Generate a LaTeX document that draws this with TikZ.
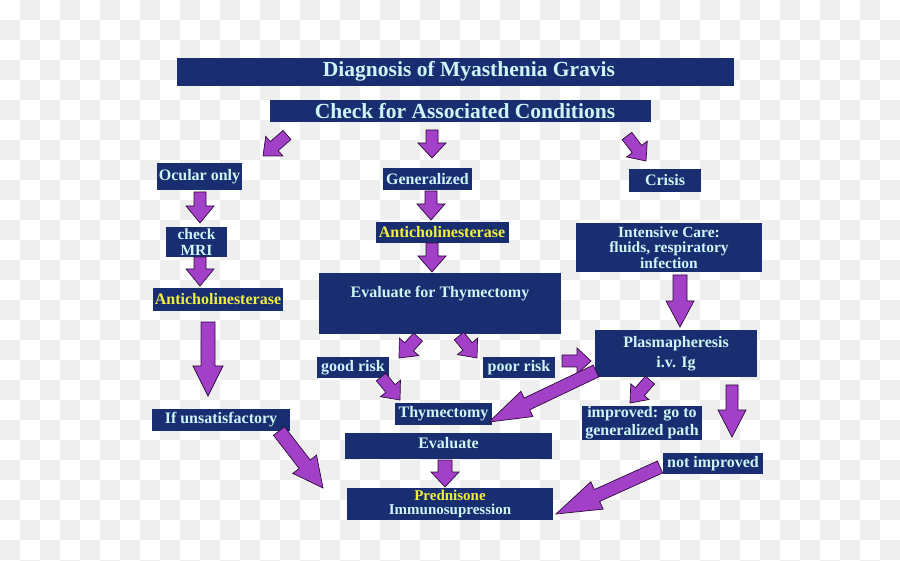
\documentclass[tikz,border=0pt]{standalone}
\usepackage{fontspec}
\setmainfont{Liberation Serif}
\usetikzlibrary{calc}
\definecolor{navy}{RGB}{24,46,112}
\definecolor{txtc}{RGB}{205,245,245}
\definecolor{yel}{RGB}{240,240,60}
\definecolor{purp}{RGB}{163,64,200}
\definecolor{purpd}{RGB}{45,10,60}
\definecolor{chk}{RGB}{239,239,239}
\newcommand\barrow[5]{%
  \coordinate (hb) at ($(#2)!#5!(#1)$);
  \filldraw[arr] ($(#1)!#3!90:(#2)$) -- ($(hb)!#3!-90:(#1)$) -- ($(hb)!#4!-90:(#1)$) -- (#2)
    -- ($(hb)!#4!90:(#1)$) -- ($(hb)!#3!90:(#1)$) -- ($(#1)!#3!-90:(#2)$) -- cycle;}
\begin{document}
\begin{tikzpicture}[x=1pt,y=-1pt,
  box/.style={fill=navy, inner sep=0pt, text=txtc, font=\bfseries\fontsize{16}{16}\selectfont, align=center},
  big/.style={box, font=\bfseries\fontsize{21.5}{22}\selectfont},
  lbl/.style={inner sep=0pt, text=txtc, font=\bfseries\fontsize{16}{16}\selectfont, align=center},
  biglbl/.style={lbl, font=\bfseries\fontsize{21.5}{22}\selectfont},
  arr/.style={fill=purp, draw=purpd, line width=0.7pt, line join=miter}]
\useasboundingbox (0,0) rectangle (900,561);
% checker background
\foreach \i in {0,...,44}{\foreach \j in {0,...,28}{%
  \pgfmathtruncatemacro\k{mod(\i+\j,2)}%
  \ifnum\k=1 \fill[chk] (\i*20,\j*20) rectangle ++(20,20);\fi}}
% boxes
\node[big, minimum width=557pt, minimum height=28pt] (title) at (455.5,72) {};
\node[biglbl] (titlet) at (469,71) {Diagnosis of Myasthenia Gravis};
\node[big, minimum width=381pt, minimum height=22pt] (chk) at (460.5,111) {};
\node[biglbl] (chkt) at (465,111) {Check for Associated Conditions};
\node[box, minimum width=85pt, minimum height=27pt] (ocu) at (199.5,176.5) {Ocular only};
\node[box, minimum width=89pt, minimum height=22pt] (gen) at (427.5,179) {Generalized};
\node[box, minimum width=72pt, minimum height=23pt] (cri) at (665,180.5) {Crisis};
\node[box, minimum width=61pt, minimum height=30pt, font=\bfseries\fontsize{15.5}{15.5}\selectfont] (mri) at (196.5,242) {check\\MRI};
\node[box, minimum width=133pt, minimum height=21pt, text=yel] (antiM) at (442,232.5) {Anticholinesterase};
\node[box, minimum width=130pt, minimum height=23pt, text=yel] (antiL) at (218,299.5) {Anticholinesterase};
\node[box, minimum width=186pt, minimum height=49pt, font=\bfseries\fontsize{15.5}{15.5}\selectfont] (icu) at (669,247.5) {Intensive Care:\\fluids, respiratory\\infection};
\node[box, minimum width=242pt, minimum height=61pt] (evt) at (440,303.5) {};
\node[lbl] (evtt) at (440,294) {Evaluate for Thymectomy};
\node[box, minimum width=162pt, minimum height=47pt, font=\bfseries\fontsize{16}{20}\selectfont] (pla) at (676,353.5) {Plasmapheresis\\i.v. Ig};
\node[box, minimum width=72pt, minimum height=21pt] (good) at (353,367.5) {good risk};
\node[box, minimum width=72pt, minimum height=21pt] (poor) at (519,367.5) {poor risk};
\node[box, minimum width=138pt, minimum height=22pt] (uns) at (221,420) {If unsatisfactory};
\node[box, minimum width=97pt, minimum height=22pt] (thy) at (443.5,414) {Thymectomy};
\node[box, minimum width=120pt, minimum height=34pt, font=\bfseries\fontsize{16}{18}\selectfont] (imp) at (642,423) {improved: go to\\generalized path};
\node[box, minimum width=207pt, minimum height=26pt] (evb) at (448.5,446) {};
\node[lbl] (evbt) at (448.5,443.5) {Evaluate};
\node[box, minimum width=100pt, minimum height=21pt] (nimp) at (713,463.5) {not improved};
\node[box, minimum width=206pt, minimum height=32pt, font=\bfseries\fontsize{15}{14.5}\selectfont] (pred) at (450,504) {{\color{yel}Prednisone}\\Immunosupression};
% arrow end points
\coordinate (a1s) at (287,135); \coordinate (a1e) at (263,156);
\coordinate (a2s) at (432,130); \coordinate (a2e) at (432,158);
\coordinate (a3s) at (627,136); \coordinate (a3e) at (646,161);
\coordinate (a4s) at (200,192); \coordinate (a4e) at (200,223);
\coordinate (a5s) at (200,257); \coordinate (a5e) at (200,286);
\coordinate (a6s) at (208,322); \coordinate (a6e) at (208,396);
\coordinate (a7s) at (431,191); \coordinate (a7e) at (431,220);
\coordinate (a8s) at (432,243); \coordinate (a8e) at (432,272);
\coordinate (a9s) at (418,337); \coordinate (a9e) at (399,358);
\coordinate (a10s) at (459,336); \coordinate (a10e) at (477,358);
\coordinate (a11s) at (381,377); \coordinate (a11e) at (400,400);
\coordinate (a12s) at (562,361); \coordinate (a12e) at (591,361);
\coordinate (a13s) at (596,371); \coordinate (a13e) at (489,422);
\coordinate (a14s) at (680,275); \coordinate (a14e) at (680,327);
\coordinate (a15s) at (650,380); \coordinate (a15e) at (630,403);
\coordinate (a16s) at (732,385); \coordinate (a16e) at (732,437);
\coordinate (a17s) at (279,431); \coordinate (a17e) at (323,488);
\coordinate (a18s) at (445,460); \coordinate (a18e) at (445,487);
\coordinate (a19s) at (660,467); \coordinate (a19e) at (556,514);
% arrows
\barrow{a1s}{a1e}{6pt}{13pt}{15pt}
\barrow{a2s}{a2e}{6pt}{14pt}{15pt}
\barrow{a3s}{a3e}{6pt}{13pt}{15pt}
\barrow{a4s}{a4e}{6pt}{14pt}{17pt}
\barrow{a5s}{a5e}{6pt}{14pt}{17pt}
\barrow{a6s}{a6e}{7pt}{15pt}{30pt}
\barrow{a7s}{a7e}{6pt}{14pt}{16pt}
\barrow{a8s}{a8e}{6pt}{14pt}{16pt}
\barrow{a9s}{a9e}{6pt}{13pt}{15pt}
\barrow{a10s}{a10e}{6pt}{13pt}{15pt}
\barrow{a11s}{a11e}{6pt}{13pt}{15pt}
\barrow{a12s}{a12e}{6pt}{13pt}{14pt}
\barrow{a13s}{a13e}{6.5pt}{14pt}{42pt}
\barrow{a14s}{a14e}{7pt}{14pt}{26pt}
\barrow{a15s}{a15e}{6pt}{12pt}{15pt}
\barrow{a16s}{a16e}{6pt}{14pt}{27pt}
\barrow{a17s}{a17e}{7pt}{15pt}{30pt}
\barrow{a18s}{a18e}{7pt}{14pt}{15pt}
\barrow{a19s}{a19e}{6.5pt}{15pt}{45pt}
\end{tikzpicture}
\end{document}
